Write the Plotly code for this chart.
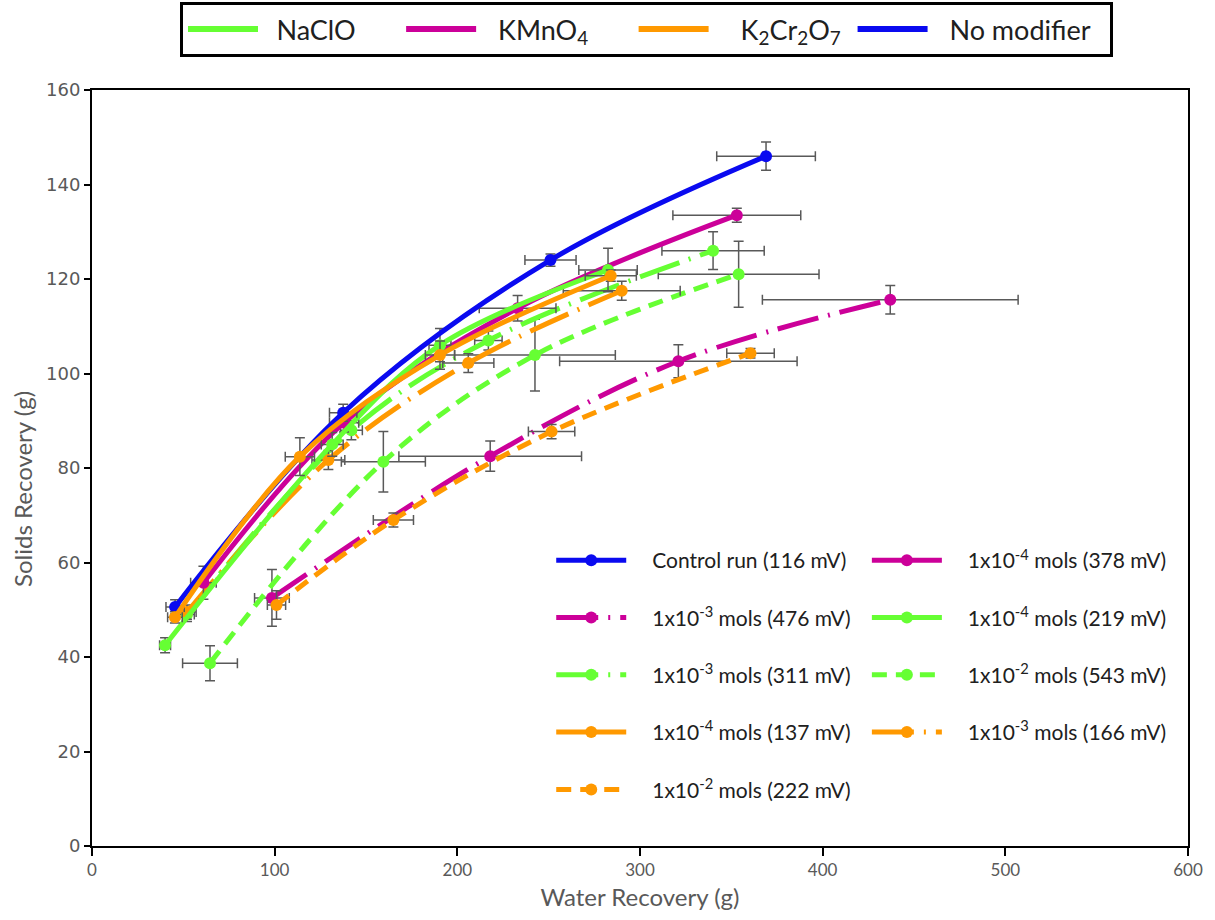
import plotly.graph_objects as go

# ---- Recovery data: water recovery (g) vs solids recovery (g), with error half-widths ----
control_x = [45.5, 137.5, 251.0, 369.0]
control_y = [50.6, 91.7, 124.0, 146.0]
control_ex = [5, 7.5, 14, 27]
control_ey = [1.5, 1.8, 1.3, 3.0]

kmno4_e4_x = [61.0, 138.0, 233.0, 353.0]
kmno4_e4_y = [55.7, 89.6, 113.8, 133.5]
kmno4_e4_ex = [7, 8, 21, 35]
kmno4_e4_ey = [3.5, 2.0, 2.7, 1.5]

kmno4_e3_x = [98.5, 218.0, 321.0, 437.0]
kmno4_e3_y = [52.5, 82.5, 102.6, 115.6]
kmno4_e3_ex = [9.5, 50, 65, 70]
kmno4_e3_ey = [6.0, 3.2, 3.5, 3.0]

naclo_e4_x = [40.0, 131.5, 190.5, 282.5]
naclo_e4_y = [42.5, 85.0, 106.0, 121.9]
naclo_e4_ex = [3, 6, 6, 16]
naclo_e4_ey = [1.6, 2.5, 3.5, 4.6]

naclo_e3_x = [52.0, 142.0, 217.0, 340.0]
naclo_e3_y = [49.0, 88.0, 107.0, 126.0]
naclo_e3_ex = [4, 6, 7.5, 28]
naclo_e3_ey = [1.5, 2.0, 2.0, 4.0]

naclo_e2_x = [64.6, 159.5, 242.5, 354.0]
naclo_e2_y = [38.7, 81.3, 103.9, 121.0]
naclo_e2_ex = [15, 23, 44, 44]
naclo_e2_ey = [3.7, 6.4, 7.6, 7.0]

k2cr_e4_x = [45.4, 113.8, 190.5, 284.0]
k2cr_e4_y = [48.4, 82.4, 103.9, 120.7]
k2cr_e4_ex = [4, 8, 8, 14]
k2cr_e4_ey = [1.2, 4.0, 3.0, 1.2]

k2cr_e3_x = [52.0, 129.4, 206.0, 290.0]
k2cr_e3_y = [49.5, 81.7, 102.2, 117.5]
k2cr_e3_ex = [5, 9, 14, 32]
k2cr_e3_ey = [1.5, 2.0, 2.0, 2.0]

k2cr_e2_x = [101.0, 165.0, 251.6, 360.5]
k2cr_e2_y = [51.0, 69.0, 87.7, 104.3]
k2cr_e2_ex = [5, 11, 12.7, 13]
k2cr_e2_ey = [3.0, 1.5, 1.5, 1.0]

# ---- Styling ----
BLUE = "#0A0AF0"
MAGENTA = "#CC0099"
GREEN = "#66FF33"
ORANGE = "#FF9900"
ERR = "#595959"
SOLID = "solid"
DASHDOT = "42px,10px,2px,10px"
DASH = "15px,9px"
EN = "\u2002"
THIN = "\u2009"
PAD = EN * 2

# (label, x, y, ex, ey, colour, dash, legend, rank) - drawn in list order
series = [
    ("1x10<sup>-3</sup> mols (476 mV)", kmno4_e3_x, kmno4_e3_y, kmno4_e3_ex, kmno4_e3_ey, MAGENTA, DASHDOT, "legend", 2),
    ("1x10<sup>-2</sup> mols (222 mV)", k2cr_e2_x, k2cr_e2_y, k2cr_e2_ex, k2cr_e2_ey, ORANGE, DASH, "legend", 5),
    ("1x10<sup>-2</sup> mols (543 mV)", naclo_e2_x, naclo_e2_y, naclo_e2_ex, naclo_e2_ey, GREEN, DASH, "legend2", 3),
    ("1x10<sup>-3</sup> mols (311 mV)", naclo_e3_x, naclo_e3_y, naclo_e3_ex, naclo_e3_ey, GREEN, DASHDOT, "legend", 3),
    ("1x10<sup>-3</sup> mols (166 mV)", k2cr_e3_x, k2cr_e3_y, k2cr_e3_ex, k2cr_e3_ey, ORANGE, DASHDOT, "legend2", 4),
    ("1x10<sup>-4</sup> mols (378 mV)", kmno4_e4_x, kmno4_e4_y, kmno4_e4_ex, kmno4_e4_ey, MAGENTA, SOLID, "legend2", 1),
    ("1x10<sup>-4</sup> mols (219 mV)", naclo_e4_x, naclo_e4_y, naclo_e4_ex, naclo_e4_ey, GREEN, SOLID, "legend2", 2),
    ("Control run (116 mV)", control_x, control_y, control_ex, control_ey, BLUE, SOLID, "legend", 1),
    ("1x10<sup>-4</sup> mols (137 mV)", k2cr_e4_x, k2cr_e4_y, k2cr_e4_ex, k2cr_e4_ey, ORANGE, SOLID, "legend", 4),
]

fig = go.Figure()

for i, (name, xs, ys, ex, ey, col, dash, leg, rank) in enumerate(series):
    fig.add_trace(go.Scatter(
        x=xs, y=ys, name=PAD + name, mode="lines+markers",
        line=dict(color=col, width=5, dash=dash, shape="spline", smoothing=1.0),
        marker=dict(color=col, size=12),
        error_x=dict(type="data", array=ex, color=ERR, thickness=1.5, width=5),
        error_y=dict(type="data", array=ey, color=ERR, thickness=1.5, width=5),
        legend=leg, legendgroup="g%d" % i, legendrank=rank,
    ))

# Oxidant colour key (spaces set the spacing between entries)
key_names = [
    EN + "NaClO" + EN * 3,
    EN + THIN + "KMnO<sub>4</sub>" + EN * 3,
    EN * 2 + "K<sub>2</sub>Cr<sub>2</sub>O<sub>7</sub>" + THIN * 2,
    EN + THIN + "No modifier" + EN,
]
key_colors = [GREEN, MAGENTA, ORANGE, BLUE]
for nm, col in zip(key_names, key_colors):
    fig.add_trace(go.Scatter(
        x=[None], y=[None], name=nm, mode="lines",
        line=dict(color=col, width=6), legend="legend3",
    ))

axis_common = dict(
    showgrid=False, zeroline=False, showline=True, linecolor="black", linewidth=2,
    mirror=True, ticks="outside", tickwidth=1.5, tickcolor="black",
)

fig.update_layout(
    width=1215, height=920,
    margin=dict(l=92, r=27, t=90, b=74),
    paper_bgcolor="white", plot_bgcolor="white",
    font=dict(family="Lato", color="#404040"),
    xaxis=dict(range=[0, 600], dtick=100, ticklen=8,
               tickfont=dict(family="Lato", size=17, color="#595959"),
               title=dict(text="Water Recovery (g)", font=dict(family="Lato", size=24, color="#595959"), standoff=10),
               **axis_common),
    yaxis=dict(range=[0, 160], dtick=20, ticklen=6,
               tickfont=dict(family="DejaVu Sans", size=18, color="#595959"),
               **axis_common),
    annotations=[dict(
        text="Solids Recovery (g)", textangle=-90, showarrow=False,
        xref="paper", yref="paper", x=(22 - 92) / 1096, y=(846 - 489) / 756,
        xanchor="center", yanchor="middle",
        font=dict(family="Lato", size=24, color="#595959"),
    )],
    legend=dict(x=0.419, y=0.4047, xanchor="left", yanchor="top", orientation="v",
                bgcolor="rgba(0,0,0,0)", font=dict(family="Lato", size=21, color="#202020"),
                itemwidth=70, tracegroupgap=27, traceorder="grouped"),
    legend2=dict(x=0.707, y=0.4047, xanchor="left", yanchor="top", orientation="v",
                 bgcolor="rgba(0,0,0,0)", font=dict(family="Lato", size=21, color="#202020"),
                 itemwidth=70, tracegroupgap=27, traceorder="grouped"),
    legend3=dict(xref="container", yref="container", x=180 / 1215, y=1 - 2 / 920,
                 xanchor="left", yanchor="top", orientation="h",
                 bgcolor="white", bordercolor="black", borderwidth=3,
                 font=dict(family="Lato", size=27, color="#202020"),
                 itemwidth=70),
)

fig.write_html("out.html")
